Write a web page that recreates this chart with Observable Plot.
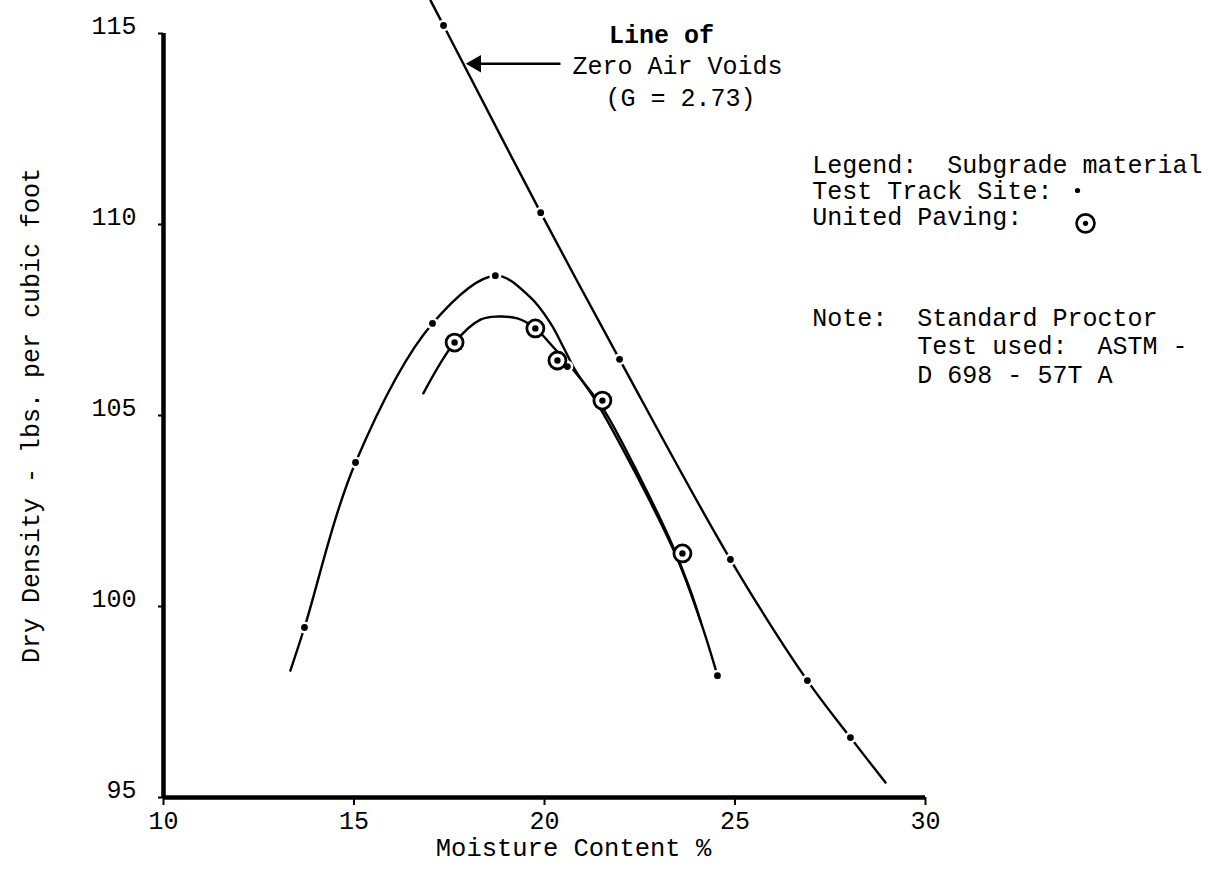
<!DOCTYPE html>
<html>
<head>
<meta charset="utf-8">
<script src="https://cdn.jsdelivr.net/npm/d3@7"></script>
<script src="https://cdn.jsdelivr.net/npm/@observablehq/plot@0.6"></script>
<style>
html,body{margin:0;padding:0;background:#fff;}
#chart svg{display:block;}
</style>
</head>
<body>
<div id="chart"></div>
<script>
// Line of zero air voids (G = 2.73)
const zavCurveMoisture = [17.01, 17.35, 19.90, 21.97, 24.88, 26.90, 28.03, 28.95];
const zavCurveDensity  = [115.86, 115.21, 110.31, 106.47, 101.23, 98.06, 96.57, 95.39];
const zavPointMoisture = [17.35, 19.90, 21.97, 24.88, 26.90, 28.03];
const zavPointDensity  = [115.21, 110.31, 106.47, 101.23, 98.06, 96.57];

// Test Track Site
const trackPointMoisture = [13.70, 15.04, 17.06, 18.71, 20.60, 24.54];
const trackPointDensity  = [99.45, 103.77, 107.41, 108.66, 106.28, 98.19];
const trackCurveMoisture = [13.33, 13.70, 15.04, 17.06, 18.71, 19.63, 20.16, 20.50, 20.81, 21.39, 23.39, 24.09, 24.54];
const trackCurveDensity  = [98.32, 99.45, 103.77, 107.41, 108.66, 108.09, 107.41, 106.78, 106.18, 105.31, 101.47, 99.63, 98.19];

// United Paving
const unitedPointMoisture = [17.64, 19.76, 20.34, 21.52, 23.62];
const unitedPointDensity  = [106.91, 107.28, 106.44, 105.39, 101.39];
const unitedCurveMoisture = [16.82, 17.64, 18.32, 18.77, 19.29, 19.76, 20.24, 20.94, 21.57, 22.52, 23.36, 23.83, 24.09];
const unitedCurveDensity  = [105.58, 106.91, 107.51, 107.59, 107.54, 107.28, 106.78, 105.97, 105.13, 103.35, 101.60, 100.42, 99.63];

const xTicks = [10, 15, 20, 25, 30];
const yTicks = [95, 100, 105, 110, 115];

const xTitle = "Moisture Content %";
const yTitle = "Dry Density - lbs. per cubic foot";
const zavLabel = ["Line of", "Zero Air Voids", "(G = 2.73)"];
const legendLines = ["Legend:  Subgrade material", "Test Track Site:", "United Paving:"];
const noteLines = ["Note:  Standard Proctor", "       Test used:  ASTM -", "       D 698 - 57T A"];

const zip = (xs, ys) => xs.map((x, i) => ({x, y: ys[i]}));
const zavCurve = zip(zavCurveMoisture, zavCurveDensity);
const zavPoints = zip(zavPointMoisture, zavPointDensity);
const trackCurve = zip(trackCurveMoisture, trackCurveDensity);
const trackPoints = zip(trackPointMoisture, trackPointDensity);
const unitedCurve = zip(unitedCurveMoisture, unitedCurveDensity);
const unitedPoints = zip(unitedPointMoisture, unitedPointDensity);

const FONT = "Liberation Mono, DejaVu Sans Mono, monospace";

const chart = Plot.plot({
  width: 1232,
  height: 873,
  marginLeft: 163,
  marginRight: 307,
  marginTop: 33,
  marginBottom: 76,
  style: {fontFamily: FONT, background: "#fff", color: "#000", whiteSpace: "pre"},
  x: {domain: [10, 30]},
  y: {domain: [95, 115]},
  marks: [
    Plot.axisX({ticks: xTicks, tickSize: 8, tickPadding: 6, fontSize: 25, strokeWidth: 2, label: null, tickFormat: d => String(d)}),
    // y tick marks
    Plot.axisY({ticks: yTicks, tickSize: 5, strokeWidth: 2, label: null, tickFormat: () => ""}),
    // y tick labels (typed slightly above their ticks in the original)
    Plot.axisY({ticks: yTicks, tickSize: 0, tickPadding: 27, fontSize: 25, label: null, dy: -8, tickFormat: d => String(d)}),
    Plot.ruleX([10], {y1: 95, y2: 115, strokeWidth: 4.5}),
    Plot.ruleY([95], {x1: 10, x2: 30, strokeWidth: 4.5}),

    Plot.line(zavCurve, {x: "x", y: "y", curve: "catmull-rom", strokeWidth: 2.4}),
    Plot.line(trackCurve, {x: "x", y: "y", curve: "catmull-rom", strokeWidth: 2.4}),
    Plot.line(unitedCurve, {x: "x", y: "y", curve: "catmull-rom", strokeWidth: 2.4}),

    // small white gaps around the hand-plotted points
    Plot.dot(zavPoints, {x: "x", y: "y", r: 6, fill: "#fff"}),
    Plot.dot(trackPoints, {x: "x", y: "y", r: 6, fill: "#fff"}),
    Plot.dot(zavPoints, {x: "x", y: "y", r: 3.4, fill: "#000"}),
    Plot.dot(trackPoints, {x: "x", y: "y", r: 3.4, fill: "#000"}),

    Plot.dot(unitedPoints, {x: "x", y: "y", r: 8.5, fill: "#fff", stroke: "#000", strokeWidth: 2.8}),
    Plot.dot(unitedPoints, {x: "x", y: "y", r: 3.2, fill: "#000"}),

    // annotation: line of zero air voids
    Plot.link([0], {x1: 20.42, y1: 114.21, x2: 18.2, y2: 114.21, strokeWidth: 2.6}),
    Plot.dot([0], {x: 18.2, y: 114.21, symbol: "triangle", r: 6.5, rotate: -90, fill: "#000"}),
    Plot.text([zavLabel[0]], {x: 23.07, y: 114.95, text: d => d, fontSize: 25, fontWeight: "bold", textAnchor: "middle"}),
    Plot.text([zavLabel[1]], {x: 23.49, y: 114.14, text: d => d, fontSize: 25, textAnchor: "middle"}),
    Plot.text([zavLabel[2]], {x: 23.57, y: 113.32, text: d => d, fontSize: 25, textAnchor: "middle"}),

    // legend block
    Plot.text([legendLines.join("\n")], {x: 27.03, y: 111.54, text: d => d, fontSize: 25, textAnchor: "start", lineAnchor: "top", lineHeight: 1.06, dy: -12}),
    Plot.dot([0], {x: 33.99, y: 110.89, r: 2.6, fill: "#000"}),
    Plot.dot([0], {x: 34.2, y: 110.03, r: 9, fill: "#fff", stroke: "#000", strokeWidth: 2.6}),
    Plot.dot([0], {x: 34.2, y: 110.03, r: 2.6, fill: "#000"}),
    Plot.text([noteLines.join("\n")], {x: 27.03, y: 107.57, text: d => d, fontSize: 25, textAnchor: "start", lineAnchor: "top", lineHeight: 1.14, dy: -12}),

    // axis titles
    Plot.text([xTitle], {frameAnchor: "bottom", text: d => d, dy: 58, dx: 29, fontSize: 25.5, textAnchor: "middle"}),
    Plot.text([yTitle], {frameAnchor: "left", text: d => d, dx: -133, rotate: -90, fontSize: 25, textAnchor: "middle"})
  ]
});
document.getElementById("chart").appendChild(chart);
</script>
</body>
</html>
